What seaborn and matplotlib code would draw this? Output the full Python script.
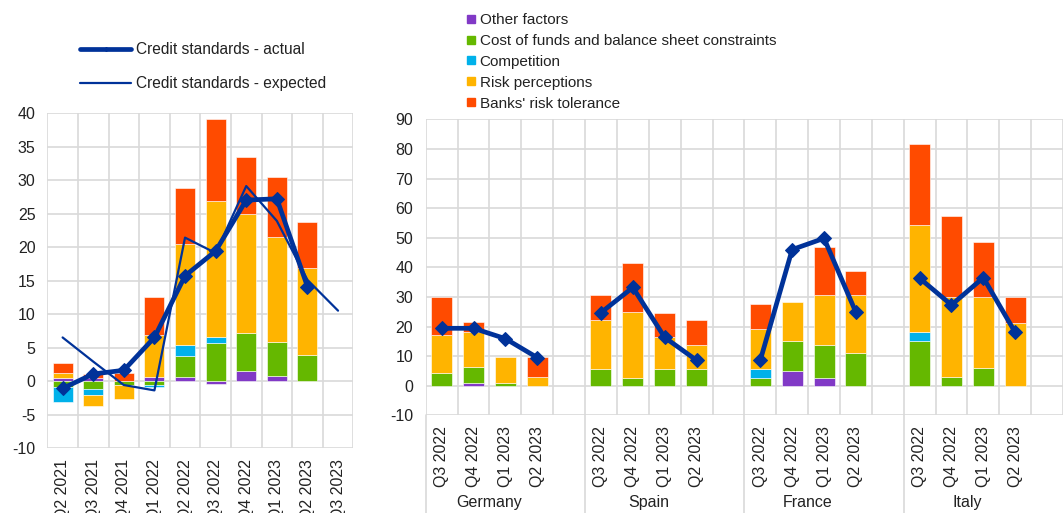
import numpy as np
import seaborn as sns
import matplotlib.pyplot as plt
from matplotlib.lines import Line2D

# euro area panel
ea_quarters = ["Q2 2021", "Q3 2021", "Q4 2021", "Q1 2022", "Q2 2022",
               "Q3 2022", "Q4 2022", "Q1 2023", "Q2 2023", "Q3 2023"]
ea_other = [0.5, 0.5, 0.0, 0.65, 0.6, -0.5, 1.5, 0.8, 0.0, 0.0]
ea_cost = [-0.85, -1.25, -0.6, -0.6, 3.15, 5.6, 5.6, 5.0, 3.9, 0.0]
ea_comp = [-2.25, -0.85, 0.0, -0.25, 1.6, 0.9, 0.0, 0.0, 0.0, 0.0]
ea_riskp = [0.65, -1.65, -2.1, 6.25, 15.05, 20.4, 17.9, 15.7, 12.9, 0.0]
ea_tol = [1.5, 0.5, 1.15, 5.7, 8.45, 12.2, 8.5, 8.9, 6.9, 0.0]
ea_actual = [-1.1, 1.05, 1.6, 6.5, 15.7, 19.4, 27.0, 27.2, 14.1, np.nan]
ea_expected = [6.5, 2.9, -0.6, -1.4, 21.4, 19.1, 29.1, 23.9, 15.1, 10.5]

# country panel
countries = ["Germany", "Spain", "France", "Italy"]
cty_quarters = ["Q3 2022", "Q4 2022", "Q1 2023", "Q2 2023"]
cty_other = [[0, 0.8, 0, 0], [0, 0, 0, 0], [0, 5.1, 2.6, 0], [0, 0, 0, 0]]
cty_cost = [[4.2, 5.6, 0.9, 0], [5.5, 2.7, 5.5, 5.5], [2.7, 10.0, 11.3, 10.9], [15.1, 3.0, 6.0, 0]]
cty_comp = [[0, 0, 0, 0], [0, 0, 0, 0], [2.8, 0, 0, 0], [2.9, 0, 0, 0]]
cty_riskp = [[12.9, 11.6, 8.8, 2.9], [16.7, 22.1, 10.9, 8.2], [13.7, 13.1, 16.8, 19.7], [36.4, 27.0, 24.1, 21.1]]
cty_tol = [[12.9, 3.4, 0, 6.8], [8.4, 16.5, 8.3, 8.4], [8.3, 0, 16.3, 8.3], [27.3, 27.3, 18.5, 9.0]]
cty_actual = [[19.4, 19.4, 15.9, 9.5], [24.7, 33.2, 16.3, 8.6], [8.6, 46.0, 49.8, 24.8], [36.3, 27.3, 36.5, 18.0]]

factor_names = ["Other factors", "Cost of funds and balance sheet constraints",
                "Competition", "Risk perceptions", "Banks' risk tolerance"]
factor_colors = ["#8139c6", "#65b800", "#00b1ea", "#ffb400", "#ff4b00"]
navy = "#003299"
grid_col = "#d9d9d9"
text_col = "#222222"

sns.set_theme(style="white")
plt.rcParams["font.family"] = ["Liberation Sans", "DejaVu Sans"]
plt.rcParams["axes.unicode_minus"] = False


def stacked_bars(ax, x, parts, width=0.65):
    x = np.asarray(x, float)
    pos = np.zeros(len(x))
    neg = np.zeros(len(x))
    for vals, color in zip(parts, factor_colors):
        vals = np.asarray(vals, float)
        base = np.where(vals >= 0, pos, neg)
        keep = vals != 0
        ax.bar(x[keep], vals[keep], width, bottom=base[keep], color=color,
               edgecolor="white", linewidth=0.4, zorder=2)
        pos += np.clip(vals, 0, None)
        neg += np.clip(vals, None, 0)


def style_axis(ax, n_slots, ypad, xpad):
    ax.set_axisbelow(True)
    for s in ax.spines.values():
        s.set_visible(False)
    ax.set_xticks(np.arange(-0.5, n_slots, 1), minor=True)
    ax.grid(True, which="minor", axis="x", color=grid_col, linewidth=1.2)
    ax.grid(True, which="major", axis="y", color=grid_col, linewidth=1.2)
    ax.grid(False, which="major", axis="x")
    ax.tick_params(axis="y", length=0, pad=ypad, labelsize=11.5, labelcolor=text_col)
    ax.tick_params(axis="x", which="both", length=0, pad=xpad, labelsize=11.5,
                   labelcolor=text_col, labelrotation=90)


fig = plt.figure(figsize=(10.63, 5.13), dpi=100)

# left: euro area
ax1 = fig.add_axes([0.0445, 0.1267, 0.2879, 0.653])
x1 = np.arange(len(ea_quarters))
stacked_bars(ax1, x1, [ea_other, ea_cost, ea_comp, ea_riskp, ea_tol])
sns.lineplot(x=x1, y=ea_expected, ax=ax1, color=navy, linewidth=1.6, zorder=3)
sns.lineplot(x=x1, y=ea_actual, ax=ax1, color=navy, linewidth=3.4, marker="D",
             markersize=7, markeredgecolor=navy, zorder=4)
ax1.set_xlim(-0.5, len(ea_quarters) - 0.5)
ax1.set_ylim(-10, 40)
ax1.set_yticks(np.arange(-10, 41, 5))
ax1.set_xticks(x1)
ax1.set_xticklabels(ea_quarters, va="top")
style_axis(ax1, len(ea_quarters), 8.5, 8)

# right: countries, 4 quarters + an empty slot per country
ax2 = fig.add_axes([0.4005, 0.1904, 0.5995, 0.577])
slots = 5
for g, name in enumerate(countries):
    xg = g * slots + np.arange(len(cty_quarters))
    stacked_bars(ax2, xg, [cty_other[g], cty_cost[g], cty_comp[g], cty_riskp[g], cty_tol[g]],
                 width=0.66)
    sns.lineplot(x=xg, y=cty_actual[g], ax=ax2, color=navy, linewidth=3.4, marker="D",
                 markersize=7, markeredgecolor=navy, zorder=4)
    ax2.text(g * slots + 1.5, -0.296, name, transform=ax2.get_xaxis_transform(),
             ha="center", va="center", fontsize=11.5, color=text_col)
    ax2.plot([g * slots - 0.5] * 2, [0, -0.45], transform=ax2.get_xaxis_transform(),
             color=grid_col, linewidth=1.2, clip_on=False)
ax2.set_xlim(-0.5, 18.13)
ax2.set_ylim(-10, 90)
ax2.set_yticks(np.arange(-10, 91, 10))
xt = [g * slots + q for g in range(len(countries)) for q in range(len(cty_quarters))]
ax2.set_xticks(xt)
ax2.set_xticklabels(cty_quarters * len(countries), va="top")
style_axis(ax2, len(countries) * slots, 9, 7.5)

# legends
line_handles = [
    Line2D([], [], color=navy, linewidth=3.4, marker="D", markersize=2),
    Line2D([], [], color=navy, linewidth=1.6),
]
fig.legend(line_handles, ["Credit standards - actual", "Credit standards - expected"],
           loc="upper left", bbox_to_anchor=(80 / 1063, 1 - 42 / 513), frameon=False,
           fontsize=11.2, handlelength=3.3, handletextpad=0.3, labelspacing=1.25,
           borderpad=0, borderaxespad=0, labelcolor=text_col)

box_handles = [Line2D([], [], linestyle="none", marker="s", markersize=5.5,
                      color=c) for c in factor_colors]
fig.legend(box_handles, factor_names, loc="upper left",
           bbox_to_anchor=(466 / 1063, 1 - 13 / 513), frameon=False, fontsize=11,
           handlelength=0.6, handletextpad=0.3, labelspacing=0.45, borderpad=0,
           borderaxespad=0, labelcolor=text_col)

fig.savefig("out.png", dpi=100)
